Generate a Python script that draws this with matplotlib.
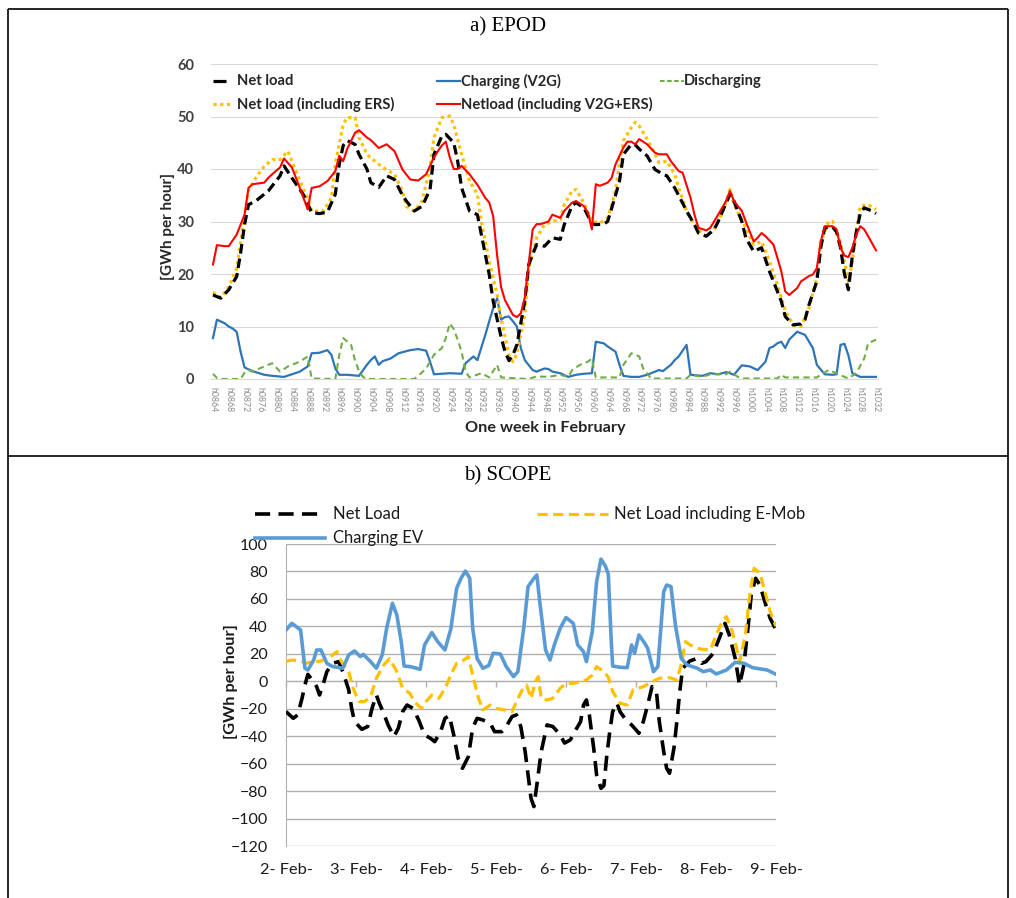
import matplotlib
matplotlib.use('Agg')
import matplotlib.pyplot as plt
from matplotlib.lines import Line2D

plt.rcParams['font.family'] = ['Lato', 'DejaVu Sans']

# ---------------- Panel a) EPOD data (hour index, GWh per hour) ----------------
epod_ticks = list(range(864, 1033, 4))
epod_tick_labels = ['h%04d' % t for t in epod_ticks]

net_h = [864, 866, 868, 870, 871, 872, 873, 875, 878, 881, 882, 884, 887, 889, 891, 893, 895, 896, 897, 898,
         900, 901, 903, 904, 906, 908, 910, 912, 913, 915, 917, 919, 920, 922, 923, 925, 926, 927, 929, 931,
         932, 934, 935, 937, 938, 939, 940, 941, 943, 944, 946, 948, 950, 952, 953, 955, 956, 958, 960, 961,
         963, 964, 966, 967, 968, 970, 971, 972, 974, 976, 978, 979, 981, 983, 984, 986, 987, 989, 991, 992,
         994, 995, 996, 998, 999, 1001, 1003, 1005, 1006, 1008, 1009, 1011, 1013, 1014, 1015, 1017, 1018, 1019,
         1021, 1022, 1023, 1024, 1025, 1026, 1027, 1028, 1029, 1031, 1032]
net_v = [16.0, 15.4, 17.0, 19.5, 24.0, 29.4, 33.2, 34.0, 35.8, 38.7, 40.6, 38.3, 35.0, 31.7, 31.5, 31.8, 35.2, 40.9, 44.5, 45.4,
         44.7, 42.8, 40.0, 37.4, 36.5, 38.7, 38.0, 35.0, 33.9, 32.0, 32.9, 36.1, 42.8, 46.3, 46.6, 45.0, 41.5, 36.4, 32.0, 31.3,
         27.5, 19.9, 14.8, 8.0, 5.2, 3.5, 4.6, 6.5, 14.8, 21.8, 25.6, 25.3, 26.9, 26.6, 29.4, 33.0, 33.6, 32.6, 29.6, 29.4,
         29.5, 30.0, 35.0, 37.7, 42.8, 44.7, 44.6, 43.8, 42.5, 39.9, 39.0, 38.7, 36.4, 33.5, 32.0, 29.4, 27.8, 27.2, 28.5, 30.0,
         33.5, 35.2, 33.9, 30.0, 26.9, 24.3, 25.0, 20.5, 18.6, 14.8, 11.9, 10.3, 10.5, 11.3, 14.1, 18.6, 25.0, 28.8,
         29.0, 28.0, 25.0, 20.0, 17.0, 23.5, 28.0, 31.5, 32.6, 32.0, 31.5]

ers_h = [864, 866, 868, 870, 871, 872, 873, 875, 877, 879, 881, 883, 885, 887, 888, 889, 892, 894, 895, 897,
         898, 900, 901, 903, 905, 907, 910, 912, 913, 915, 917, 919, 920, 922, 924, 925, 927, 929, 931, 932,
         934, 936, 937, 939, 940, 941, 943, 944, 946, 948, 950, 952, 953, 955, 956, 958, 960, 962, 964, 965,
         966, 967, 968, 970, 971, 972, 974, 976, 977, 979, 981, 982, 984, 986, 988, 989, 991, 993, 995, 996,
         999, 1001, 1003, 1005, 1007, 1009, 1011, 1013, 1015, 1017, 1018, 1020, 1021, 1023, 1024, 1025, 1026,
         1027, 1028, 1030, 1032]
ers_v = [16.5, 15.5, 17.5, 21.0, 26.0, 31.0, 36.0, 38.5, 40.5, 41.8, 41.8, 43.4, 39.6, 36.0, 34.5, 32.0, 32.0, 34.5, 40.9, 48.5,
         49.8, 49.8, 46.0, 42.8, 41.5, 40.3, 39.0, 35.8, 32.9, 32.0, 33.9, 40.3, 46.0, 49.8, 50.1, 48.5, 42.8, 37.7, 35.2, 30.0,
         22.4, 16.0, 11.5, 4.6, 3.3, 4.8, 12.2, 21.1, 26.9, 29.4, 30.0, 30.4, 33.2, 35.9, 36.1, 33.5, 30.0, 29.7, 30.7, 33.0,
         36.0, 41.0, 45.4, 47.9, 48.9, 48.2, 45.7, 42.8, 41.2, 41.5, 39.0, 36.4, 32.0, 29.4, 27.5, 27.2, 28.5, 31.5, 36.1, 33.2,
         28.8, 25.6, 26.2, 22.4, 18.0, 13.0, 10.3, 10.0, 13.5, 19.2, 26.2, 30.0, 30.0, 26.0, 22.4, 18.6, 22.4,
         28.2, 32.9, 33.2, 32.3]

v2g_h = [864, 865, 867, 868, 870, 872, 873, 874, 877, 878, 879, 881, 882, 884, 886, 888, 889, 891, 893, 895,
         896, 897, 898, 900, 901, 903, 904, 906, 908, 910, 912, 914, 916, 918, 920, 921, 922, 923, 924, 925,
         926, 927, 929, 931, 933, 934, 935, 936, 937, 938, 940, 941, 942, 943, 944, 945, 946, 947, 949, 950,
         952, 953, 955, 956, 958, 959, 960, 961, 962, 964, 965, 966, 968, 969, 970, 971, 972, 974, 976, 977,
         979, 980, 982, 983, 985, 986, 987, 989, 990, 992, 994, 995, 996, 998, 999, 1001, 1002, 1003, 1004,
         1006, 1007, 1008, 1009, 1010, 1012, 1013, 1015, 1016, 1017, 1018, 1019, 1021, 1022, 1023, 1024,
         1025, 1026, 1027, 1028, 1029, 1030, 1032]
v2g_v = [21.8, 25.5, 25.3, 25.3, 27.5, 31.3, 36.4, 37.1, 37.4, 38.3, 39.0, 40.3, 42.0, 40.3, 36.4, 32.3, 36.4, 36.7, 37.7, 39.6,
         42.5, 41.5, 43.8, 46.9, 47.4, 46.0, 45.5, 44.0, 44.7, 43.4, 39.9, 38.0, 37.8, 39.0, 42.2, 43.4, 44.5, 45.2, 42.2, 40.0,
         40.0, 40.6, 39.0, 37.0, 34.5, 33.6, 31.0, 23.5, 17.5, 15.0, 12.2, 11.8, 12.5, 15.5, 22.0, 28.5, 29.5, 29.5, 30.0, 31.3,
         30.7, 32.0, 33.6, 33.9, 32.9, 31.7, 28.5, 37.1, 36.8, 37.4, 38.3, 40.9, 44.1, 45.2, 45.2, 44.7, 45.7, 44.7, 43.1, 42.8,
         42.8, 41.5, 39.6, 39.3, 34.5, 31.3, 28.8, 28.3, 28.8, 31.3, 33.9, 35.8, 33.9, 32.0, 30.0, 26.2, 26.9, 27.8, 27.2,
         25.6, 23.1, 20.5, 16.7, 16.0, 17.3, 18.6, 19.6, 19.9, 21.1, 26.2, 29.1, 29.1, 28.5, 25.0, 23.5,
         23.2, 25.0, 27.5, 29.1, 28.5, 27.2, 24.5]

chg_h = [864, 865, 867, 868, 869, 870, 871, 872, 874, 877, 879, 882, 884, 886, 888, 889, 891, 893, 894, 895,
         896, 898, 901, 903, 904, 905, 906, 907, 909, 911, 914, 916, 918, 919, 920, 924, 927, 928, 930, 931,
         933, 934, 935, 936, 937, 938, 939, 940, 941, 942, 943, 945, 946, 948, 949, 950, 952, 954, 956, 958,
         960, 961, 963, 964, 966, 967, 968, 970, 972, 974, 976, 977, 978, 980, 981, 982, 984, 985, 988, 990,
         992, 994, 995, 996, 998, 1000, 1002, 1004, 1005, 1006, 1007, 1008, 1009, 1010, 1012, 1014, 1016, 1017,
         1019, 1021, 1022, 1023, 1024, 1025, 1026, 1028, 1032]
chg_v = [7.8, 11.3, 10.6, 10.0, 9.6, 9.0, 5.2, 2.2, 1.5, 0.8, 0.6, 0.4, 0.9, 1.4, 2.4, 4.9, 5.0, 5.5, 4.6, 2.0,
         0.8, 0.8, 0.6, 2.7, 3.6, 4.3, 2.7, 3.4, 3.9, 4.9, 5.5, 5.7, 5.4, 3.3, 0.9, 1.1, 1.0, 3.0, 4.3, 3.6,
         8.4, 11.0, 13.5, 15.4, 11.3, 11.8, 11.9, 11.0, 10.0, 5.9, 3.6, 1.7, 1.4, 2.0, 1.9, 1.4, 1.1, 0.4, 0.8, 1.0,
         1.1, 7.1, 6.8, 6.2, 5.2, 2.7, 0.6, 0.4, 0.4, 0.8, 1.4, 1.7, 1.5, 2.7, 3.6, 4.3, 6.5, 0.8, 0.6, 1.1,
         0.9, 1.3, 1.1, 0.8, 2.6, 2.4, 1.7, 3.3, 5.9, 6.2, 6.8, 7.1, 5.9, 7.5, 9.0, 8.4, 5.9, 2.7,
         0.9, 0.8, 0.9, 6.5, 6.7, 4.5, 1.1, 0.4, 0.4]

dis_h = [864, 865, 866, 871, 872, 873, 874, 877, 879, 881, 883, 886, 888, 889, 895, 896, 897, 899, 900, 901,
         902, 903, 915, 916, 918, 920, 922, 923, 924, 925, 926, 927, 928, 929, 932, 934, 936, 937, 944, 946,
         949, 952, 954, 955, 957, 959, 960, 961, 967, 968, 970, 972, 973, 975, 984, 985, 988, 990, 994, 995,
         997, 998, 1007, 1008, 1009, 1017, 1018, 1020, 1022, 1024, 1025, 1027, 1029, 1030, 1032]
dis_v = [1.0, 0.2, 0.0, 0.0, 1.2, 1.7, 1.4, 2.4, 3.0, 1.4, 2.4, 3.3, 4.3, 0.1, 0.0, 4.6, 7.8, 6.5, 3.5, 1.5,
         0.4, 0.0, 0.0, 0.6, 2.0, 4.6, 5.9, 7.8, 10.6, 9.5, 7.5, 5.2, 1.4, 0.3, 1.1, 0.3, 2.7, 0.3, 0.0, 0.5,
         0.4, 0.8, 0.4, 1.7, 2.7, 3.3, 3.9, 0.3, 0.3, 2.7, 4.9, 4.3, 2.0, 0.1, 0.1, 0.8, 0.4, 0.9, 0.9, 1.4,
         0.4, 0.1, 0.1, 0.8, 0.3, 0.3, 0.8, 1.7, 1.1, 0.4, 0.1, 1.1, 3.9, 6.8, 7.5]

# ---------------- Panel b) SCOPE data (hours from 2 Feb, GWh per hour) ----------------
day_ticks = [0, 24, 48, 72, 96, 120, 144, 168]
day_labels = ['2- Feb-', '3- Feb-', '4- Feb-', '5- Feb-', '6- Feb-', '7- Feb-', '8- Feb-', '9- Feb-']

nl_h = [0, 2.5, 4, 5.5, 6.5, 7.5, 9.5, 10.5, 11.5, 13, 14, 16, 18, 19.5, 21.5, 22.5, 23.5, 26, 28, 29.5,
        31, 32, 33.5, 35, 37, 38.5, 40, 41.5, 43.5, 45.5, 47.5, 49.5, 51, 53, 54.5, 56, 57.5, 59, 60.5, 62.5,
        64, 65.5, 67.5, 70, 71.5, 74, 75.5, 77.5, 79, 80.5, 82, 83, 84, 85, 86, 87.5, 89.5, 91.5, 94, 95.5,
        97.5, 99, 101, 102, 103, 104, 105.5, 106.5, 108, 109, 110, 111, 112, 113.5, 114.5, 117, 118.5, 119.5, 121, 122.5,
        124, 125.5, 127, 128, 129.5, 130.5, 131.5, 133, 134, 135, 136, 138.5, 141, 142.5, 144, 146.5, 149, 150.5, 152, 154,
        155.5, 157, 158.5, 159.5, 161, 162.5, 164.5, 166, 168]
nl_v = [-22.1, -27.0, -24.5, -12.4, -2.7, 5.0, -0.3, -3.9, -10.0, -0.3, 7.0, 13.1, 14.3, 7.0, -6.3, -19.7, -29.4, -35.0, -33.0, -19.7,
        -10.0, -16.0, -23.3, -31.8, -40.3, -34.2, -22.1, -17.3, -19.7, -28.2, -39.1, -41.5, -44.0, -36.7, -27.0, -25.0, -39.0, -56.0, -63.4, -55.0,
        -34.2, -27.0, -28.2, -30.6, -36.7, -36.7, -33.0, -25.7, -24.5, -33.0, -51.3, -68.3, -85.2, -91.3, -75.6, -51.3, -31.8, -33.0, -39.0, -45.0,
        -42.7, -36.7, -29.4, -17.3, -13.6, -24.5, -48.8, -68.3, -78.0, -76.0, -53.7, -36.7, -22.1, -16.0, -22.1, -29.4, -31.8, -34.2, -37.9, -29.4,
        -17.3, -3.9, -7.5, -29.4, -51.3, -63.4, -67.0, -48.8, -29.4, -7.5, 9.5, 14.8, 16.7, 13.1, 14.3, 20.4, 33.7, 42.2, 33.7, 16.7,
        -2.7, 11.9, 41.0, 62.9, 75.0, 70.1, 55.6, 45.9, 37.4]

em_h = [0, 2, 5, 7, 9.5, 11.5, 14, 16, 17.5, 19, 21.5, 23, 25, 27, 29, 31, 33.5, 35.5, 38, 40,
        42.5, 44, 46.5, 48, 50, 52.5, 55, 56.5, 58.5, 61, 62.5, 64, 66, 67.5, 70, 72, 75, 77.5, 79, 81,
        82.5, 84, 85.5, 86.5, 87.5, 89.5, 91.5, 94, 96, 98.5, 101, 103, 105, 106.5, 109, 110.5, 112, 114.5, 117, 119,
        122.5, 125.5, 128, 131.5, 134, 135.5, 137, 138.5, 142, 145.5, 147.5, 149.5, 151, 153, 154.5, 155.5, 157.5, 159, 160.5, 162.5,
        164.5, 166, 168]
em_v = [14.3, 15.5, 14.8, 13.1, 14.8, 14.3, 16.7, 19.2, 21.6, 14.3, 7.0, -5.1, -14.8, -14.8, -11.2, 2.2, 11.9, 16.5, 7.0, -5.1,
        -8.8, -15.0, -19.7, -14.8, -10.0, -12.4, -3.0, 4.6, 13.1, 15.5, 18.0, 4.6, -12.4, -20.9, -17.3, -19.7, -20.9, -22.1, -14.8, -6.3,
        -2.7, -12.4, -0.3, 3.4, -12.4, -13.6, -12.4, -5.1, -1.5, -1.5, -0.3, 1.0, 4.6, 10.7, 7.0, 3.0, -7.5, -16.0, -17.3, -6.3,
        -3.9, -0.3, 2.2, 2.6, 1.0, 11.9, 28.9, 26.5, 23.5, 22.8, 33.7, 43.4, 47.1, 36.2, 24.0, 14.3, 33.7, 62.9, 82.3, 78.7,
        62.9, 50.7, 40.0]

ev_h = [0, 2, 3.5, 5, 6.5, 7.5, 9.5, 10.5, 12, 14, 16, 19.5, 21.5, 23.5, 25.5, 26.5, 29, 31, 33, 34.5,
        36.5, 38, 39.5, 40.5, 42.5, 44, 46, 47.5, 50, 52, 54.5, 56.5, 58.5, 60, 61.5, 63, 64, 65.5, 67.5, 69.5,
        71, 73.5, 75.5, 78, 79.5, 81.5, 83, 85, 86, 87, 89, 90.5, 92, 94, 96, 98.5, 100, 102, 103, 105,
        106.5, 108, 109.5, 110.5, 111.5, 112, 114.5, 117, 118.5, 119.5, 121, 123, 124, 126, 127.5, 129.5, 130.5, 132, 133.5, 135.5,
        137.5, 141, 143, 145.5, 147.5, 151, 154, 157, 160, 165, 168]
ev_v = [37.4, 42.2, 39.8, 37.4, 9.5, 8.2, 15.5, 22.8, 22.8, 13.1, 10.7, 9.5, 19.2, 22.1, 18.0, 19.6, 14.3, 9.5, 19.2, 38.6,
        56.8, 48.3, 28.9, 11.1, 10.7, 9.9, 8.7, 26.5, 35.5, 28.9, 22.8, 38.0, 67.7, 75.0, 80.3, 75.0, 38.6, 16.7, 9.5, 11.4,
        20.4, 19.9, 10.7, 3.4, 7.0, 38.6, 69.0, 75.0, 77.4, 58.0, 22.8, 15.5, 26.5, 38.6, 46.4, 42.2, 26.5, 21.6, 14.3, 36.2,
        72.6, 89.0, 84.0, 78.0, 30.0, 11.1, 10.2, 9.9, 26.5, 20.4, 33.7, 27.7, 24.0, 7.0, 10.7, 65.3, 70.1, 69.0, 41.0, 16.7,
        11.9, 9.5, 7.0, 8.2, 5.3, 8.2, 13.8, 13.1, 9.9, 8.2, 5.1]

# ---------------- Figure ----------------
W, H = 1016, 898
fig = plt.figure(figsize=(W / 100, H / 100), dpi=100)


def fx(x):
    return x / W


def fy(y):
    return 1 - y / H


def fline(x0, x1, y, **kw):
    fig.add_artist(Line2D([fx(x0), fx(x1)], [fy(y), fy(y)], transform=fig.transFigure, **kw))


# table borders
bk = dict(color='black', lw=1.2, solid_capstyle='butt')
fig.add_artist(Line2D([fx(8), fx(1008)], [fy(9), fy(9)], transform=fig.transFigure, **bk))
fig.add_artist(Line2D([fx(8), fx(1008)], [fy(456), fy(456)], transform=fig.transFigure, **bk))
fig.add_artist(Line2D([fx(8), fx(8)], [fy(9), fy(898)], transform=fig.transFigure, **bk))
fig.add_artist(Line2D([fx(1008), fx(1008)], [fy(9), fy(898)], transform=fig.transFigure, **bk))

fig.text(fx(508), fy(27), 'a) EPOD', family='Liberation Serif', fontsize=15, ha='center', va='center')
fig.text(fx(508), fy(476), 'b) SCOPE', family='Liberation Serif', fontsize=15, ha='center', va='center')

# ---------------- Panel a ----------------
ax1 = fig.add_axes([fx(211), fy(379), (878 - 211) / W, (379 - 64) / H])
ax1.set_xlim(863.5, 1032.5)
ax1.set_ylim(0, 60)
ax1.set_yticks(range(0, 61, 10))
ax1.grid(axis='y', color='#D9D9D9', lw=0.8)
ax1.set_axisbelow(True)
for s in ['top', 'right', 'left']:
    ax1.spines[s].set_visible(False)
ax1.spines['bottom'].set_color('#D9D9D9')
ax1.set_xticks(epod_ticks)
ax1.set_xticklabels(epod_tick_labels, rotation=270, fontsize=6.3, color='#8C8C8C')
ax1.tick_params(axis='x', length=0, pad=6)
ax1.tick_params(axis='y', length=0, pad=12, labelsize=10.5, labelcolor='#404040')
for t in ax1.get_yticklabels():
    t.set_fontweight('bold')

ax1.plot(chg_h, chg_v, color='#2E75B6', lw=1.6, zorder=3)
ax1.plot(dis_h, dis_v, color='#70AD47', lw=1.5, dashes=(3, 2), zorder=3)
ax1.plot(ers_h, ers_v, color='#FFC000', lw=2.3, dashes=(1, 1.1), zorder=4)
ax1.plot(net_h, net_v, color='black', lw=2.3, dashes=(3, 1.6), zorder=5)
ax1.plot(v2g_h, v2g_v, color='#FF0000', lw=1.5, zorder=6)

fig.text(fx(168), fy(226), '[GWh per hour]', rotation=90, fontsize=11, fontweight='bold',
         ha='center', va='center', color='#262626')
fig.text(fx(545), fy(428), 'One week in February', fontsize=11.7, fontweight='bold',
         ha='center', va='center', color='#262626')

# legend a (manual)
fline(213, 226, 81, color='black', lw=2.3, solid_capstyle='butt')
fline(213, 233, 104, color='#FFC000', lw=2.3, dashes=(1, 1.1))
fline(437, 460, 81, color='#2E75B6', lw=1.6)
fline(437, 460, 104, color='#FF0000', lw=1.5)
fline(660, 684, 81, color='#70AD47', lw=1.5, dashes=(2.2, 1.2))
lt = dict(fontsize=10.6, fontweight='bold', color='#262626', ha='left', va='center')
fig.text(fx(237), fy(81), 'Net load', **lt)
fig.text(fx(237), fy(104), 'Net load (including ERS)', **lt)
fig.text(fx(461), fy(81), 'Charging (V2G)', **lt)
fig.text(fx(461), fy(104), 'Netload (including V2G+ERS)', **lt)
fig.text(fx(684), fy(81), 'Discharging', **lt)

# ---------------- Panel b ----------------
ax2 = fig.add_axes([fx(286), fy(846), (776 - 286) / W, (846 - 544) / H])
ax2.set_xlim(0, 168)
ax2.set_ylim(-120, 100)
ax2.set_yticks(range(-120, 101, 20))
ax2.grid(axis='y', color='#B0B0B0', lw=1.0)
ax2.set_axisbelow(True)
ax2.spines['top'].set_visible(False)
ax2.spines['right'].set_visible(False)
ax2.spines['left'].set_color('#B0B0B0')
ax2.spines['bottom'].set_position(('data', 0))
ax2.spines['bottom'].set_color('#B0B0B0')
ax2.set_xticks(day_ticks)
ax2.tick_params(axis='x', length=4, width=1, color='#B0B0B0', direction='out', labelbottom=False)
ax2.tick_params(axis='y', length=0, pad=13, labelsize=11.5, labelcolor='#1A1A1A')
sec = ax2.secondary_xaxis('bottom')
sec.set_xticks(day_ticks)
sec.set_xticklabels(day_labels)
sec.tick_params(length=0, pad=12, labelsize=11.8, labelcolor='#1A1A1A')
sec.spines['bottom'].set_visible(False)

ax2.plot(nl_h, nl_v, color='black', lw=2.6, dashes=(4.2, 2.3), zorder=3)
ax2.plot(em_h, em_v, color='#FFC000', lw=2.3, dashes=(3.2, 1.7), zorder=4)
ax2.plot(ev_h, ev_v, color='#5B9BD5', lw=2.6, zorder=5, solid_joinstyle='round')

fig.text(fx(231), fy(682), '[GWh per hour]', rotation=90, fontsize=11.8, fontweight='bold',
         ha='center', va='center', color='#1A1A1A')

# legend b (manual)
fline(255, 325, 514, color='black', lw=2.6, dashes=(4.2, 2.3))
fline(537, 608, 514, color='#FFC000', lw=2.3, dashes=(3.2, 1.7))
fline(255, 325, 538, color='#5B9BD5', lw=2.6)
lb = dict(fontsize=12, color='#1A1A1A', ha='left', va='center')
fig.text(fx(333), fy(514), 'Net Load', **lb)
fig.text(fx(614), fy(514), 'Net Load including E-Mob', **lb)
fig.text(fx(333), fy(538), 'Charging EV', **lb)

fig.savefig('out.png', dpi=100)
